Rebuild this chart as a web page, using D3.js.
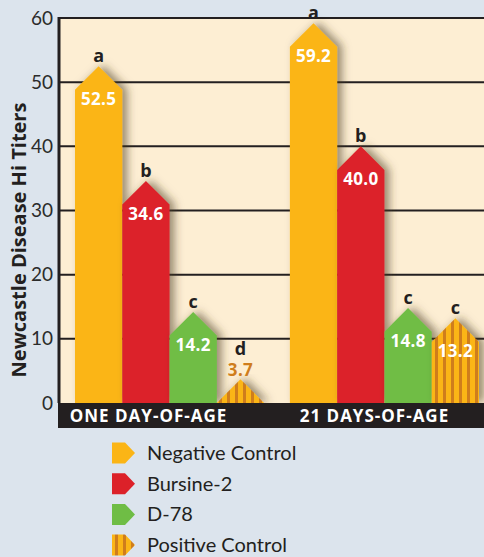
<!DOCTYPE html>
<html>
<head>
<meta charset="utf-8">
<script src="https://cdn.jsdelivr.net/npm/d3@7"></script>
<style>
  html, body { margin: 0; padding: 0; background: #dce4ed; }
  svg { display: block; }
</style>
</head>
<body>
<div id="chart"></div>
<script>
// data
const groups = ['ONE DAY-OF-AGE', '21 DAYS-OF-AGE'];
const series = ['Negative Control', 'Bursine-2', 'D-78', 'Positive Control'];
const values = [
    [52.5, 34.6, 14.2, 3.7],
    [59.2, 40.0, 14.8, 13.2]
];
const letters = [
    ['a', 'b', 'c', 'd'],
    ['a', 'b', 'c', 'c']
];
const y_ticks = [0, 10, 20, 30, 40, 50, 60];

const W = 484, H = 557;
const colors = ['#fbb516', '#dc2129', '#6fbd45', 'url(#stripes)'];

const svg = d3.select('#chart')
    .append('svg')
    .attr('width', W)
    .attr('height', H)
    .attr('id', 'main-svg');

const defs = svg.append('defs');

// vertical stripes for the positive control
const pat = defs.append('pattern')
    .attr('id', 'stripes')
    .attr('patternUnits', 'userSpaceOnUse')
    .attr('width', 8)
    .attr('height', 10);
pat.append('rect').attr('width', 8).attr('height', 10).attr('fill', '#fbb516');
pat.append('rect').attr('x', 3).attr('width', 3).attr('height', 10).attr('fill', '#cf7d1c');

const shadow = defs.append('filter')
    .attr('id', 'shadow')
    .attr('x', '-20%').attr('y', '-20%')
    .attr('width', '160%').attr('height', '140%');
shadow.append('feDropShadow')
    .attr('dx', 5).attr('dy', -1)
    .attr('stdDeviation', 4)
    .attr('flood-color', '#4a3a20')
    .attr('flood-opacity', 0.55);

// background
svg.append('rect')
    .attr('width', W).attr('height', H)
    .attr('fill', '#dce4ed');

const plot_left = 59, plot_right = W, plot_top = 18, plot_bottom = 403;

const y = d3.scaleLinear().domain([0, 60]).range([plot_bottom, plot_top]);
const x0 = d3.scaleBand().domain(groups).range([75, 479]).paddingInner(0.12);
const x1 = d3.scaleBand().domain(series).range([0, x0.bandwidth()]);

svg.append('rect')
    .attr('x', plot_left).attr('y', plot_top)
    .attr('width', plot_right - plot_left).attr('height', plot_bottom - plot_top)
    .attr('fill', '#fdeed3');

// grid lines
svg.append('g')
    .selectAll('line')
    .data(y_ticks.filter(d => d > 0))
    .join('line')
    .attr('x1', plot_left).attr('x2', plot_right)
    .attr('y1', d => y(d)).attr('y2', d => y(d))
    .attr('stroke', '#231f20')
    .attr('stroke-width', 2);

// tick labels
svg.append('g')
    .selectAll('text')
    .data(y_ticks)
    .join('text')
    .attr('x', 53)
    .attr('y', d => y(d))
    .attr('dy', '0.35em')
    .attr('text-anchor', 'end')
    .attr('font-family', 'Lato, "Open Sans", sans-serif')
    .attr('font-size', 19)
    .attr('fill', '#2b2b2b')
    .text(d => d);

svg.append('text')
    .attr('transform', `translate(26, 240) rotate(-90)`)
    .attr('text-anchor', 'middle')
    .attr('font-family', '"Open Sans", sans-serif')
    .attr('font-weight', 'bold')
    .attr('font-size', 20)
    .attr('fill', '#231f20')
    .text('Newcastle Disease Hi Titers');

// bars with pointed roofs
function bar_path(x_left, w, v) {
    const y0 = y(0);
    const yp = y(v);
    const ys = Math.min(yp + w / 2, y0);
    const xm = x_left + w / 2;
    return `M${x_left},${y0} L${x_left},${ys} L${xm},${yp} L${x_left + w},${ys} L${x_left + w},${y0} Z`;
}

const bars = svg.append('g');
groups.forEach((g, gi) => {
    series.forEach((s, si) => {
        const v = values[gi][si];
        const xl = x0(g) + x1(s);
        const w = x1.bandwidth();
        bars.append('path')
            .attr('d', bar_path(xl, w, v))
            .attr('fill', colors[si])
            .attr('filter', 'url(#shadow)');
    });
});

// labels
const labels = svg.append('g')
    .attr('font-family', '"Open Sans", sans-serif')
    .attr('font-weight', 'bold')
    .attr('text-anchor', 'middle');
groups.forEach((g, gi) => {
    series.forEach((s, si) => {
        const v = values[gi][si];
        const xm = x0(g) + x1(s) + x1.bandwidth() / 2;
        const yp = y(v);
        const inside = (y(0) - yp) > 45;
        const vy = inside ? yp + 39 : yp - 3;
        labels.append('text')
            .attr('x', xm).attr('y', vy)
            .attr('font-size', 17)
            .attr('letter-spacing', 0.3)
            .attr('fill', inside ? '#ffffff' : '#cf7d1c')
            .text(v.toFixed(1));
        labels.append('text')
            .attr('x', xm).attr('y', inside ? yp - 4 : vy - 21)
            .attr('font-size', 18)
            .attr('fill', '#231f20')
            .text(letters[gi][si]);
    });
});

// left axis line
svg.append('line')
    .attr('x1', plot_left).attr('x2', plot_left)
    .attr('y1', plot_top - 1).attr('y2', plot_bottom)
    .attr('stroke', '#231f20')
    .attr('stroke-width', 3);

// category band
svg.append('rect')
    .attr('x', plot_left - 1).attr('y', plot_bottom)
    .attr('width', plot_right - plot_left + 1).attr('height', 25)
    .attr('fill', '#231f20');

svg.append('g')
    .selectAll('text')
    .data(groups)
    .join('text')
    .attr('x', (d, i) => x0(d) + x0.bandwidth() / 2 - (i === 0 ? 21 : 10))
    .attr('y', plot_bottom + 19)
    .attr('text-anchor', 'middle')
    .attr('font-family', '"Open Sans", sans-serif')
    .attr('font-weight', 'bold')
    .attr('font-size', 17)
    .attr('letter-spacing', 1)
    .attr('fill', '#ffffff')
    .text(d => d);

// legend
const legend = svg.append('g').attr('transform', 'translate(112, 453)');
const rows = legend.selectAll('g')
    .data(series)
    .join('g')
    .attr('transform', (d, i) => `translate(0, ${i * 30.7})`);
rows.append('path')
    .attr('d', 'M0,-10.5 L13,-10.5 L23,0 L13,10.5 L0,10.5 Z')
    .attr('fill', (d, i) => colors[i]);
rows.append('text')
    .attr('x', 35)
    .attr('y', 0)
    .attr('dy', '0.35em')
    .attr('font-family', 'Lato, sans-serif')
    .attr('font-size', 20)
    .attr('fill', '#231f20')
    .text(d => d);
</script>
</body>
</html>
